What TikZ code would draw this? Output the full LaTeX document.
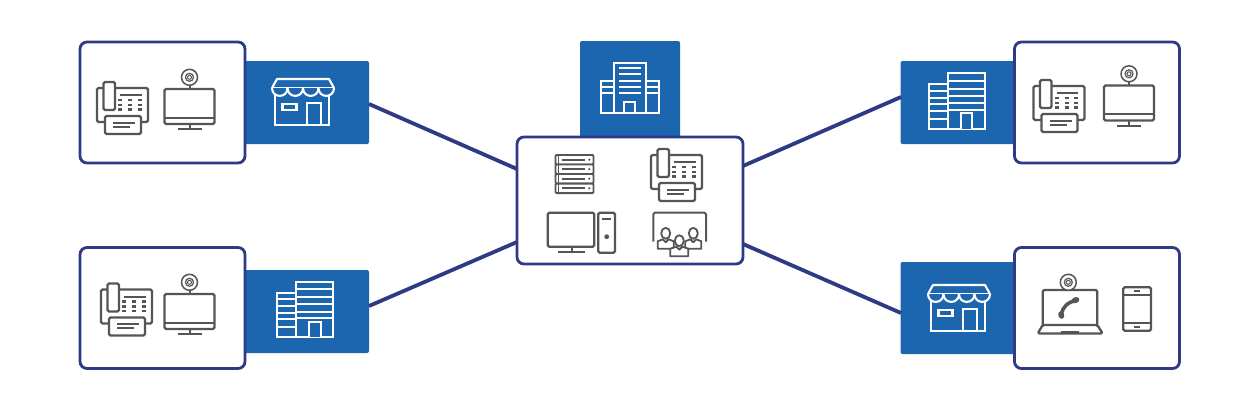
\documentclass[tikz,border=0pt]{standalone}
\usepackage[dvipsnames]{xcolor}
\definecolor{bandblue}{HTML}{1C66B0}
\definecolor{edgenavy}{HTML}{2F3A85}
\definecolor{icongrey}{HTML}{555555}
\tikzset{
  grey icon/.style={draw=icongrey,line width=2.3pt,rounded corners=1.5pt,fill=white},
  grey line/.style={icongrey,line width=2pt},
  white icon/.style={draw=white,line width=2.1pt,fill=none},
  pics/deskphone/.style={code={
    \draw[grey icon] (0,6) rectangle (51,40);
    \draw[grey icon] (6.5,0) rectangle (18,28);
    \draw[grey icon] (8,34) rectangle (44,52);
    \draw[grey line] (23,13) -- (44.5,13);
    \draw[grey line] (16,40.5) -- (38,40.5);
    \draw[grey line] (16,44.5) -- (33,44.5);
    \foreach \kx in {23,33,42.5}
      \foreach \ky in {18,23,27.5}
        \fill[icongrey] (\kx-2,\ky-1.2) rectangle (\kx+2,\ky+1.2);
  }},
  pics/webcam/.style={code={
    \draw[icongrey,line width=1.5pt,fill=white] (0,0) circle (8);
    \draw[icongrey,line width=1.2pt] (0,0) circle (4);
    \draw[icongrey,line width=1pt] (0,0) circle (2);
  }},
  pics/screencam/.style={code={
    \draw[grey icon] (0,0) rectangle (50,35);
    \draw[grey line] (0,28.5) -- (50,28.5);
    \draw[grey line] (25,35) -- (25,40);
    \draw[grey line] (13,40) -- (37,40);
    \draw[grey line] (25,-4) -- (25,0);
    \pic at (25,-11.7) {webcam};
  }},
  pics/storefront/.style={code={
    \draw[white icon] (3,9) rectangle (57,46);
    \draw[white icon] (10.5,25) rectangle (24.5,31);
    \draw[white icon] (34.7,24) rectangle (48.7,46);
    \draw[white icon,fill=bandblue,line join=round] (0,9) -- (5,0) -- (57,0) -- (62,9);
    \draw[white icon] (0,9) -- (62,9);
    \foreach \sx in {0,15.5,31,46.5}
      \draw[white icon,fill=bandblue] (\sx,9) .. controls (\sx,19.5) and (\sx+15.5,19.5) .. (\sx+15.5,9);
  }},
  pics/offices/.style={code={
    \draw[white icon] (18.7,0) rectangle (56,55.6);
    \draw[white icon] (0,11) rectangle (18.7,55.6);
    \foreach \ly in {7.6,15.6,22.6,30,36.6}
      \draw[white icon] (18.7,\ly) -- (56,\ly);
    \foreach \ly in {17.6,24.3,31,37.6,45.6}
      \draw[white icon] (0,\ly) -- (18.7,\ly);
    \draw[white icon,fill=bandblue] (32,55.6) -- (32,40) -- (43.4,40) -- (43.4,55.6);
  }},
  person/.style={draw=icongrey,line width=1.8pt,fill=white,line join=round}
}
\begin{document}
\begin{tikzpicture}[x=1pt,y=-1pt,
    bandbox/.style={draw=none,fill=bandblue,rounded corners=2pt,inner sep=0pt},
    sitebox/.style={draw=edgenavy,line width=2.8pt,fill=white,rounded corners=7pt,inner sep=0pt},
    link/.style={draw=edgenavy,line width=3.8pt}]
  \useasboundingbox (0,0) rectangle (1260,410);
  % blue bands first, white boxes over them
  \node (bandtl) [bandbox,minimum width=130pt,minimum height=83pt] at (304,102.5) {};
  \node (bandbl) [bandbox,minimum width=130pt,minimum height=83pt] at (304,311.5) {};
  \node (bandtr) [bandbox,minimum width=130pt,minimum height=83pt] at (965.5,102.5) {};
  \node (bandbr) [bandbox,minimum width=130pt,minimum height=92pt] at (965.5,308) {};
  \node (bandhub) [bandbox,minimum width=100pt,minimum height=100pt] at (630,91) {};
  \node (sitetl) [sitebox,minimum width=165pt,minimum height=121pt] at (162.5,102.5) {};
  \node (sitebl) [sitebox,minimum width=165pt,minimum height=121pt] at (162.5,308) {};
  \node (sitetr) [sitebox,minimum width=165pt,minimum height=121pt] at (1097,102.5) {};
  \node (sitebr) [sitebox,minimum width=165pt,minimum height=121pt] at (1097,308) {};
  \node (hub) [sitebox,minimum width=226pt,minimum height=127pt] at (630,200.5) {};
  % link ends
  \coordinate (hubtl) at (517,169);
  \coordinate (hubbl) at (517,242);
  \coordinate (hubtr) at (743,166);
  \coordinate (hubbr) at (743,244);
  \coordinate (endtl) at (369,104);
  \coordinate (endbl) at (369,306);
  \coordinate (endtr) at (901,97);
  \coordinate (endbr) at (901,313);
  \draw[link] (endtl) -- (hubtl);
  \draw[link] (endbl) -- (hubbl);
  \draw[link] (endtr) -- (hubtr);
  \draw[link] (endbr) -- (hubbr);
  % white icons
  \pic (storetl) at (272,79) {storefront};
  \pic (storebr) at (928,285) {storefront};
  \pic (officebl) at (277.3,281.7) {offices};
  \pic (officetr) at (929,73.3) {offices};
  % tower on hub band
  \draw[white icon] (600.7,80.7) rectangle (659.3,113.3);
  \draw[white icon,fill=bandblue] (614,62.7) rectangle (646,113.3);
  \foreach \ly in {68.3,74.3,80.7,86.7,92.7}
    \draw[white icon] (619.3,\ly) -- (640.7,\ly);
  \foreach \ly in {86.7,93.3} {
    \draw[white icon] (600.7,\ly) -- (614,\ly);
    \draw[white icon] (646,\ly) -- (659.3,\ly);
  }
  \draw[white icon] (624.3,113.3) -- (624.3,101.7) -- (635,101.7) -- (635,113.3);
  % phones and screens
  \pic (phonetl) at (97,82) {deskphone};
  \pic (phonebl) at (101,283.5) {deskphone};
  \pic (phonetr) at (1033.5,80) {deskphone};
  \pic (phonehub) at (651,149) {deskphone};
  \pic (screentl) at (164.5,89) {screencam};
  \pic (screenbl) at (164.5,294) {screencam};
  \pic (screentr) at (1104,85.5) {screencam};
  % server rack
  \foreach \ry in {155,164.5,174,183.6} {
    \draw[grey icon,line width=1.8pt,rounded corners=1pt] (555.5,\ry) rectangle (593.5,\ry+9.5);
    \draw[icongrey,line width=1.5pt] (558.5,\ry) -- (558.5,\ry+9.5);
    \draw[icongrey,line width=1.7pt] (561.7,\ry+4.7) -- (585,\ry+4.7);
    \fill[icongrey] (589.3,\ry+4.7) circle (1.2);
  }
  % desktop computer
  \draw[grey icon] (547.7,212.7) rectangle (594.3,246.7);
  \draw[grey line] (571.7,246.7) -- (571.7,251.7);
  \draw[grey line] (557.7,251.7) -- (585,251.7);
  \draw[grey icon] (598.3,212.7) rectangle (615,252.7);
  \draw[grey line] (602.3,219.3) -- (611,219.3);
  \fill[icongrey] (606.7,236.7) circle (2.4);
  % meeting room
  \draw[icongrey,line width=2pt,rounded corners=1.5pt] (653.3,241.7) -- (653.3,212.7) -- (706,212.7) -- (706,241.7);
  \foreach \hx/\hy/\hw in {665.7/233.3/8,693.3/233.3/8,679.3/240.7/9} {
    \draw[person] (\hx-\hw,\hy+15.5) -- (\hx-\hw,\hy+8) -- (\hx-3,\hy+6) -- (\hx,\hy+9) -- (\hx+3,\hy+6) -- (\hx+\hw,\hy+8) -- (\hx+\hw,\hy+15.5) -- cycle;
    \draw[person] (\hx,\hy) ellipse (4.5 and 5.5);
  }
  % laptop and handset
  \draw[grey icon] (1042.7,325) -- (1042.7,290) -- (1097.3,290) -- (1097.3,325);
  \draw[grey icon,line join=round] (1042.7,325) -- (1097.3,325) -- (1102.7,333.5) -- (1037.7,333.5) -- cycle;
  \draw[icongrey,line width=3pt] (1061,332.5) -- (1079,332.5);
  \pic (camlaptop) at (1068.3,282.3) {webcam};
  \draw[icongrey,line width=3.6pt] (1061.5,315) .. controls (1062,307) and (1068,302) .. (1076,300.5);
  \draw[icongrey,line width=5.5pt,line cap=round] (1061,314) -- (1061.5,316);
  \draw[icongrey,line width=5.5pt,line cap=round] (1074.5,300.5) -- (1076.5,299.8);
  % tablet
  \draw[grey icon] (1123.3,287.3) rectangle (1151,330.7);
  \draw[grey line] (1123.3,295) -- (1151,295);
  \draw[grey line] (1123.3,323.3) -- (1151,323.3);
  \draw[grey line] (1134.3,291) -- (1140,291);
  \draw[grey line] (1134.3,327.3) -- (1140,327.3);
\end{tikzpicture}
\end{document}
